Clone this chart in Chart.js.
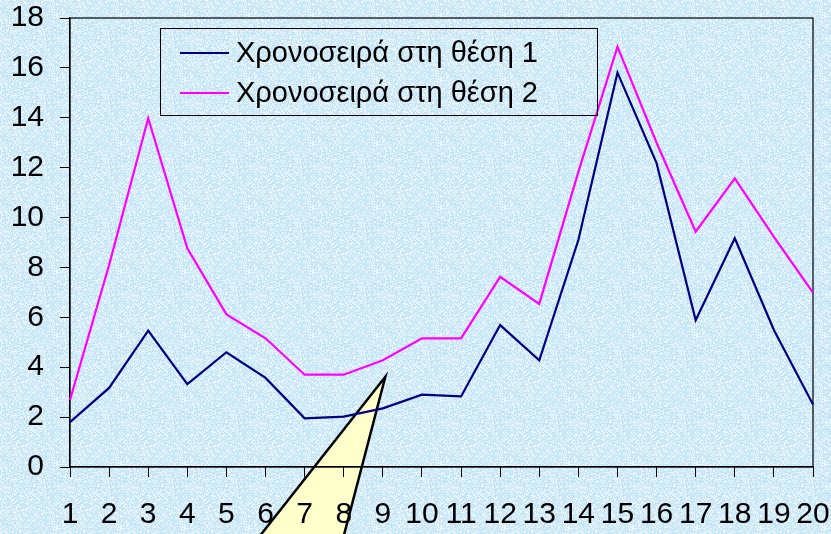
<!DOCTYPE html>
<html>
<head>
<meta charset="utf-8">
<script src="https://cdn.jsdelivr.net/npm/chart.js@4"></script>
<style>
  html, body { margin: 0; padding: 0; background: #d4eefa; }
  #wrap { width: 831px; height: 534px; }
</style>
</head>
<body>
<div id="wrap"><canvas id="chart" width="831" height="534"></canvas></div>
<script>
// δεδομένα
const categories = ['1','2','3','4','5','6','7','8','9','10','11','12','13','14','15','16','17','18','19','20'];
const seriesNames = ['Χρονοσειρά στη θέση 1', 'Χρονοσειρά στη θέση 2'];
const series1 = [1.8, 3.17, 5.47, 3.32, 4.6, 3.57, 1.95, 2.02, 2.35, 2.9, 2.83, 5.69, 4.28, 9.1, 15.81, 12.18, 5.88, 9.17, 5.49, 2.51];
const series2 = [2.69, 8.1, 13.98, 8.77, 6.12, 5.16, 3.7, 3.7, 4.28, 5.16, 5.16, 7.62, 6.54, 11.83, 16.85, 13.0, 9.43, 11.57, 9.23, 6.99];
const yTicks = [0, 2, 4, 6, 8, 10, 12, 14, 16, 18];

const FONT = '"Liberation Sans", Arial, sans-serif';

// textura fundo (azul claro com pontinhos brancos)
function makePattern() {
  const c = document.createElement('canvas');
  c.width = 64; c.height = 64;
  const g = c.getContext('2d');
  g.fillStyle = '#cbe9f8';
  g.fillRect(0, 0, 64, 64);
  let s = 12345;
  for (let y = 0; y < 64; y++) {
    for (let x = 0; x < 64; x++) {
      s = (s * 1103515245 + 12345) & 0x7fffffff;
      const r = s % 100;
      if (r < 30) { g.fillStyle = '#eef8fe'; g.fillRect(x, y, 1, 1); }
      else if (r < 45) { g.fillStyle = '#bfe3f5'; g.fillRect(x, y, 1, 1); }
    }
  }
  return c;
}

const fundo = {
  id: 'fundo',
  beforeDraw(chart) {
    const ctx = chart.ctx;
    ctx.save();
    ctx.fillStyle = ctx.createPattern(makePattern(), 'repeat');
    ctx.fillRect(0, 0, chart.width, chart.height);

    // triangulo amarelo (callout) - ponta no ponto 9
    const xs = chart.scales.x, ys = chart.scales.y;
    const tx = xs.getPixelForValue(8) + 2.5;
    const ty = ys.getPixelForValue(3.62);
    ctx.beginPath();
    ctx.moveTo(tx, ty);
    ctx.lineTo(tx - 0.788 * (580 - ty), 580);
    ctx.lineTo(tx - 0.2614 * (580 - ty), 580);
    ctx.closePath();
    ctx.fillStyle = '#ffffcc';
    ctx.fill();
    ctx.lineWidth = 2.5;
    ctx.lineJoin = 'miter';
    ctx.strokeStyle = '#000';
    ctx.stroke();
    ctx.restore();
  },
  beforeDatasetsDraw(chart) {
    // moldura da area do grafico
    const a = chart.chartArea;
    const ctx = chart.ctx;
    ctx.save();
    ctx.strokeStyle = '#000';
    ctx.lineWidth = 1.2;
    ctx.strokeRect(a.left, a.top, a.right - a.left, a.bottom - a.top);
    ctx.restore();
  }
};

// legenda propria (dentro do grafico)
const legenda = {
  id: 'legenda',
  afterDraw(chart) {
    const ctx = chart.ctx;
    ctx.save();
    ctx.strokeStyle = '#000';
    ctx.lineWidth = 1;
    ctx.strokeRect(160.5, 28.5, 437, 87);
    ctx.font = '29px ' + FONT;
    ctx.textBaseline = 'middle';
    ctx.fillStyle = '#000';
    chart.data.datasets.forEach((ds, i) => {
      const y = 53 + i * 40;
      ctx.beginPath();
      ctx.moveTo(180, y);
      ctx.lineTo(229, y);
      ctx.strokeStyle = ds.borderColor;
      ctx.lineWidth = 2;
      ctx.stroke();
      ctx.fillText(ds.label, 236, y + 1);
    });
    ctx.restore();
  }
};

const ctx = document.getElementById('chart').getContext('2d');
const chart = new Chart(ctx, {
  type: 'line',
  data: {
    labels: categories,
    datasets: [
      { label: seriesNames[0], data: series1, borderColor: '#000080', borderWidth: 2.2, pointRadius: 0, tension: 0 },
      { label: seriesNames[1], data: series2, borderColor: '#ff00ff', borderWidth: 2.2, pointRadius: 0, tension: 0 }
    ]
  },
  options: {
    responsive: false,
    animation: false,
    devicePixelRatio: 1,
    layout: { padding: 0 },
    plugins: { legend: { display: false }, tooltip: { enabled: false } },
    scales: {
      x: {
        offset: false,
        grid: { offset: false, drawOnChartArea: false, drawTicks: true, tickLength: 10, color: '#000' },
        border: { color: '#000', width: 1.2 },
        ticks: { autoSkip: false, maxRotation: 0, minRotation: 0, color: '#000', padding: 20, font: { size: 30, family: FONT } },
        afterFit(scale) {
          scale.height = 67;
          scale.paddingLeft = 0;
          scale.paddingRight = 18;
        }
      },
      y: {
        min: 0,
        max: 18,
        afterBuildTicks(scale) { scale.ticks = yTicks.map(v => ({ value: v })); },
        grid: { drawOnChartArea: false, drawTicks: true, tickLength: 10, color: '#000' },
        border: { color: '#000', width: 1.2 },
        ticks: { color: '#000', padding: 16, font: { size: 30, family: FONT } },
        afterFit(scale) {
          scale.width = 70;
          scale.paddingTop = 18;
          scale.paddingBottom = 0;
        }
      }
    }
  },
  plugins: [fundo, legenda]
});
</script>
</body>
</html>
